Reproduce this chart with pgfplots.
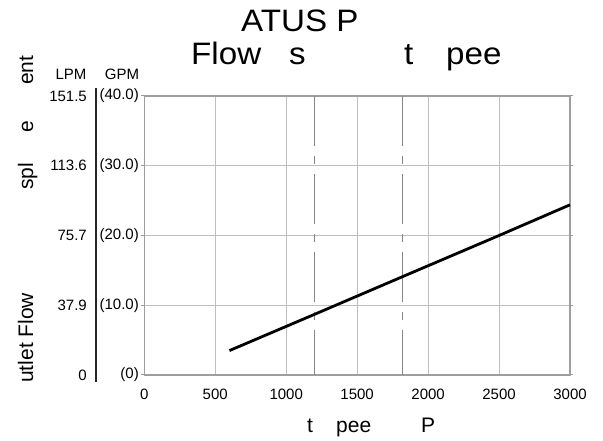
\documentclass[border=0pt]{standalone}
\usepackage{pgfplots}
\pgfplotsset{compat=1.18}
\usepackage{fontspec}
\setmainfont{Liberation Sans}
\begin{document}
\begin{tikzpicture}[x=1bp,y=1bp]
\useasboundingbox (0,0) rectangle (603,441);
\begin{axis}[at={(144.3bp,66bp)}, anchor=south west, scale only axis,
  width=425.7bp, height=279bp,
  xmin=0, xmax=3000, ymin=0, ymax=40,
  xtick={0,500,...,3000}, ytick={0,10,20,30,40},
  yticklabels={(0),(10.0),(20.0),(30.0),(40.0)},
  grid=major, grid style={color=black!25, line width=1.1bp},
  axis line style={color=black!38, line width=1.2bp},
  tick style={color=black!40, line width=1bp},
  xtick style={draw=none},
  ytick align=outside, major tick length=3bp,
  ticklabel style={font=\fontsize{15bp}{17bp}\selectfont},
  /pgf/number format/assume math mode=true,
  xticklabel style={/pgf/number format/1000 sep=, yshift=-11bp},
  yticklabel style={xshift=1bp},
  clip=false,
]
\addplot[black!48, line width=1.1bp, dash pattern=on 50bp off 10bp on 8bp off 10bp] coordinates {(1200,40) (1200,0)};
\addplot[black!48, line width=1.1bp, dash pattern=on 50bp off 10bp on 8bp off 10bp] coordinates {(1820,40) (1820,0)};
\addplot[black, line width=2.8bp] coordinates {(600,3.5) (1200,8.7) (1820,14.1) (2500,20) (3000,24.4)};
\end{axis}
% LPM column
\draw[black!85, line width=1.5bp] (96,59) -- (96,353);
\begin{scope}[every node/.style={font=\fontsize{15bp}{17bp}\selectfont, inner sep=0pt}]
\node[anchor=east] at (87,345) {151.5};
\node[anchor=east] at (87,275.25) {113.6};
\node[anchor=east] at (87,205.5) {75.7};
\node[anchor=east] at (87,135.75) {37.9};
\node[anchor=east] at (87,66) {0};
\node at (71,367) {LPM};
\node at (122,367) {GPM};
\end{scope}
% title
\begin{scope}[every node/.style={font=\fontsize{31bp}{35bp}\selectfont, inner sep=0pt, anchor=base west, xscale=1.07}]
\node at (241,409) {ATUS P};
\node at (191,376) {Flow};
\node at (289,376) {s};
\node at (404,376) {t};
\node at (446,376) {pee};
\end{scope}
% x label
\begin{scope}[every node/.style={font=\fontsize{21bp}{24bp}\selectfont, inner sep=0pt, anchor=base west}]
\node at (307,8) {t};
\node at (336,8) {pee};
\node at (421,8) {P};
\end{scope}
% y label
\begin{scope}[every node/.style={font=\fontsize{21bp}{24bp}\selectfont, inner sep=0pt, anchor=base west, rotate=90}]
\node at (33,58) {utlet Flow};
\node at (33,251) {spl};
\node at (33,308) {e};
\node at (33,356) {ent};
\end{scope}
\end{tikzpicture}
\end{document}
